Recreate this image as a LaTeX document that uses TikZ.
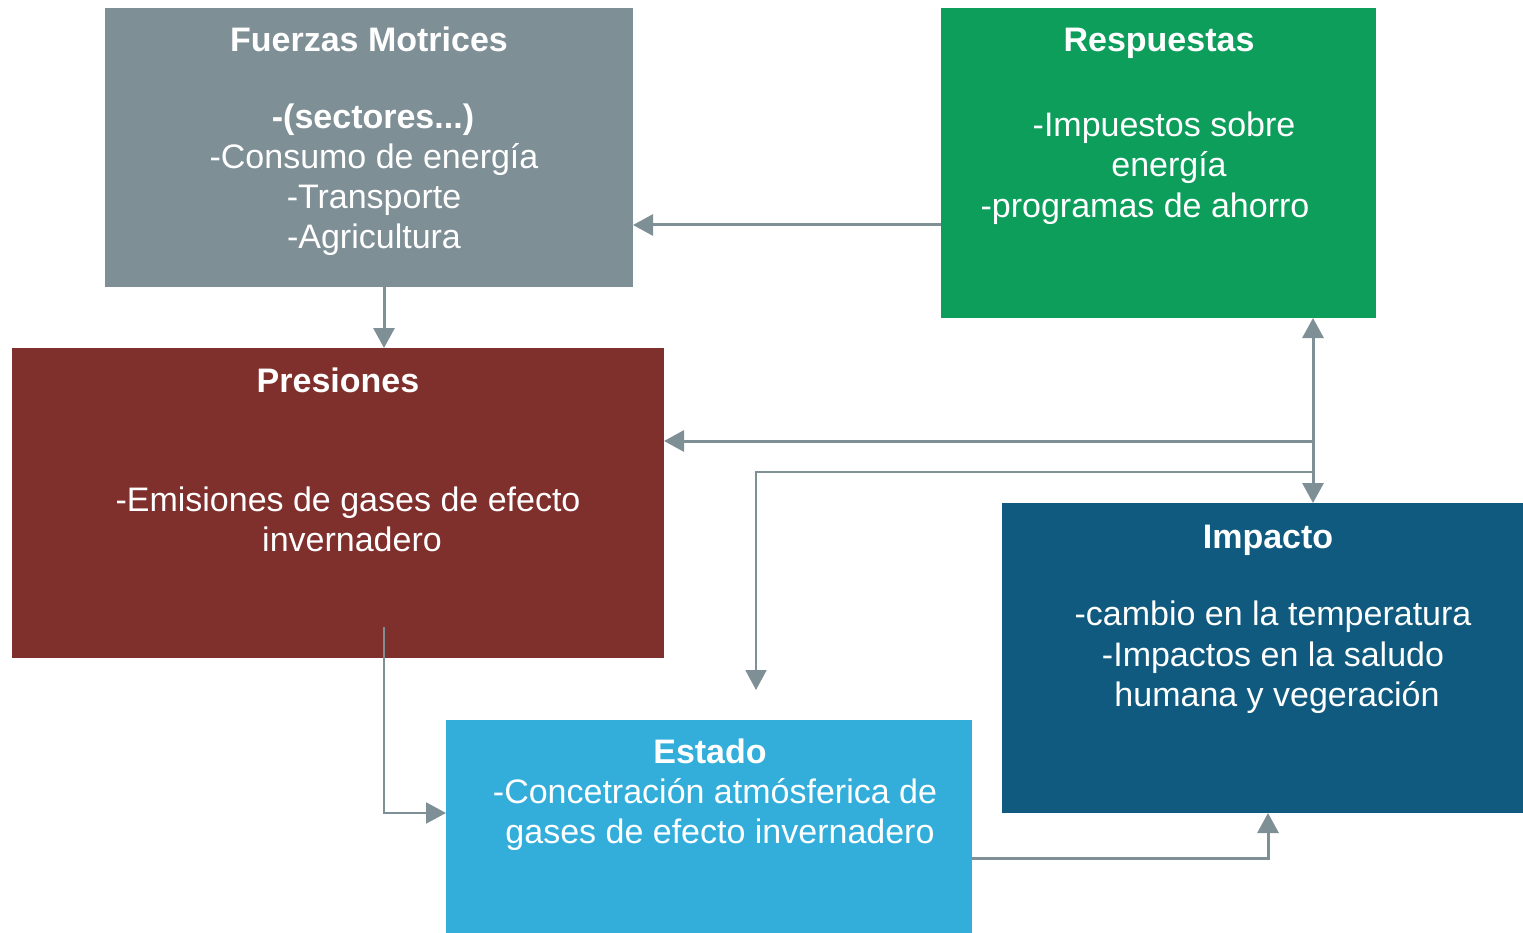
\documentclass[tikz,border=0pt]{standalone}
\usepackage{fontspec}
\setmainfont{Liberation Sans}
\usetikzlibrary{arrows.meta}
\definecolor{cgray}{HTML}{7F8F96}
\definecolor{cgreen}{HTML}{0E9E5C}
\definecolor{cred}{HTML}{7F2F2C}
\definecolor{cblue}{HTML}{0F5A7E}
\definecolor{clight}{HTML}{33AEDB}
\begin{document}
\begin{tikzpicture}[x=1pt,y=-1pt,
  box/.style={rectangle,inner sep=0pt,outer sep=0pt,draw=none,anchor=north west},
  ttl/.style={anchor=base,inner sep=0pt,text=white,font=\fontsize{34}{40}\selectfont\bfseries},
  txt/.style={anchor=base,inner sep=0pt,text=white,font=\fontsize{34}{40}\selectfont},
  arr/.style={draw=cgray,line width=3pt,-{Triangle[length=20pt,width=21pt]}},
  arrboth/.style={draw=cgray,line width=3pt,{Triangle[length=20pt,width=21pt]}-{Triangle[length=20pt,width=21pt]}},
  thinarr/.style={draw=cgray,line width=2pt,-{Triangle[length=20pt,width=21pt]}}]
\useasboundingbox (0,0) rectangle (1523,933);
% boxes
\node[box,fill=cgray,minimum width=528pt,minimum height=279pt] (fuer) at (105,8) {};
\node[box,fill=cgreen,minimum width=435pt,minimum height=310pt] (resp) at (941,8) {};
\node[box,fill=cred,minimum width=652pt,minimum height=310pt] (pres) at (12,348) {};
\node[box,fill=cblue,minimum width=521pt,minimum height=310pt] (imp) at (1002,503) {};
\node[box,fill=clight,minimum width=526pt,minimum height=213pt] (est) at (446,720) {};
% texts
\node[ttl] (f0) at (369,52) {Fuerzas Motrices};
\node[ttl] (f1) at (373,129) {-(sectores...)};
\node[txt] (f2) at (374,169) {-Consumo de energía};
\node[txt] (f3) at (374,209) {-Transporte};
\node[txt] (f4) at (374,249) {-Agricultura};
\node[ttl] (r0) at (1159,52) {Respuestas};
\node[txt] (r1) at (1164,137) {-Impuestos sobre};
\node[txt] (r2) at (1169,177) {energía};
\node[txt] (r3) at (1145,218) {-programas de ahorro};
\node[ttl] (p0) at (338,392) {Presiones};
\node[txt] (p1) at (348,511) {-Emisiones de gases de efecto};
\node[txt] (p2) at (352,551) {invernadero};
\node[ttl] (i0) at (1268,548) {Impacto};
\node[txt] (i1) at (1273,625) {-cambio en la temperatura};
\node[txt] (i2) at (1273,666) {-Impactos en la saludo};
\node[txt] (i3) at (1277,706) {humana y vegeración};
\node[ttl] (e0) at (710,763) {Estado};
\node[txt] (e1) at (715,803) {-Concetración atmósferica de};
\node[txt] (e2) at (720,843) {gases de efecto invernadero};
% helper coordinates
\coordinate (y225) at (0,225);
\coordinate (x384) at (384,0);
\coordinate (x1313) at (1313,0);
\coordinate (j1) at (1313,441);
\coordinate (j2) at (1313,472);
\coordinate (e5) at (756,690);
\coordinate (s6) at (384,627);
\coordinate (y813) at (0,813);
\coordinate (y858) at (0,858);
\coordinate (x1268) at (1268,0);
% connectors
\draw[arr] (resp.west |- y225) -- (fuer.east |- y225);
\draw[arr] (fuer.south -| x384) -- (pres.north -| x384);
\draw[arr] (j1) -- (pres.east |- j1);
\draw[arrboth] (resp.south -| x1313) -- (imp.north -| x1313);
\draw[thinarr] (j2) -| (e5);
\draw[thinarr] (s6) |- (est.west |- y813);
\draw[arr] (est.east |- y858) -| (imp.south -| x1268);
\end{tikzpicture}
\end{document}
